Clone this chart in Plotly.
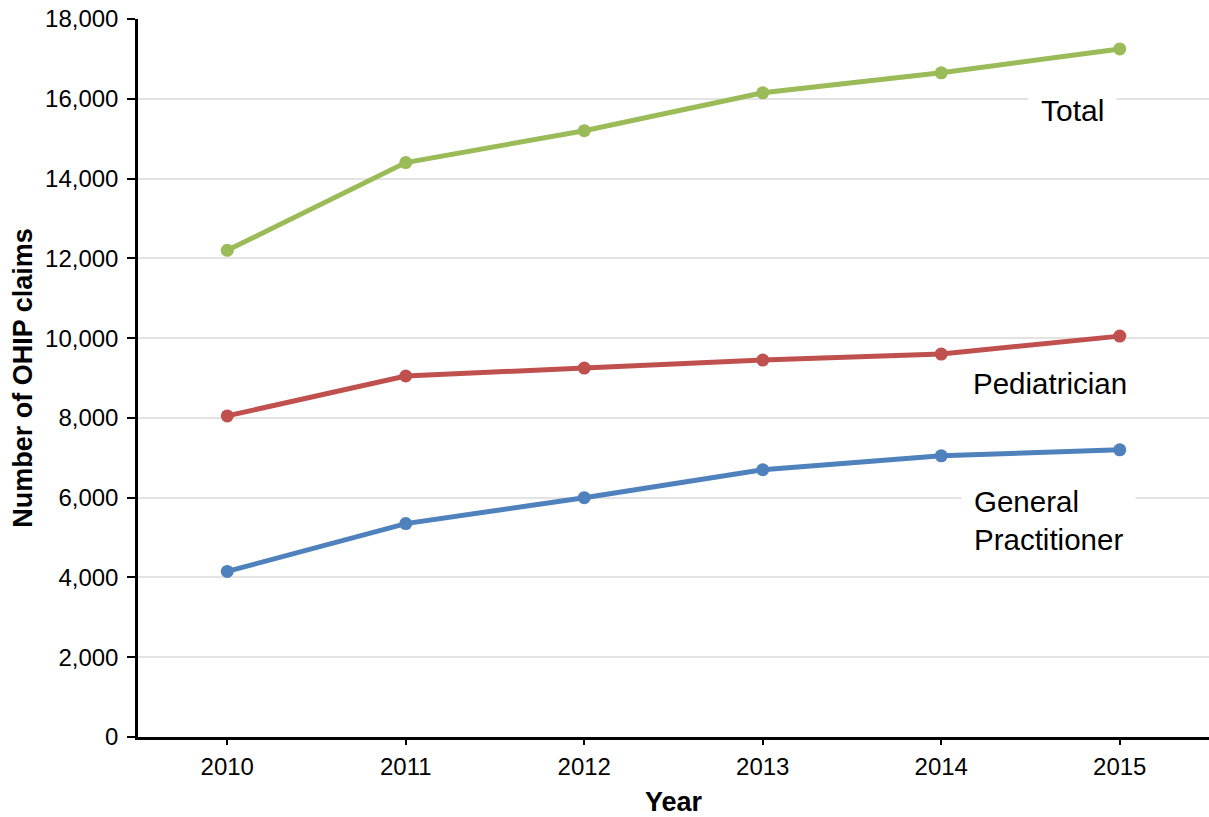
import plotly.graph_objects as go

years = [2010, 2011, 2012, 2013, 2014, 2015]
total = [12200, 14400, 15200, 16150, 16650, 17250]
pediatrician = [8050, 9050, 9250, 9450, 9600, 10050]
general_practitioner = [4150, 5350, 6000, 6700, 7050, 7200]
y_ticks = list(range(0, 18001, 2000))

FONT = "Liberation Sans, Arial, sans-serif"

fig = go.Figure()
for name, vals, color in [
    ("Total", total, "#9BBB59"),
    ("Pediatrician", pediatrician, "#C0504D"),
    ("General Practitioner", general_practitioner, "#4F81BD"),
]:
    fig.add_trace(go.Scatter(
        x=years, y=vals, name=name, mode="lines+markers",
        line=dict(color=color, width=5),
        marker=dict(color=color, size=13),
        showlegend=False,
    ))

fig.update_layout(
    width=1209, height=817,
    margin=dict(l=138, r=0, t=19, b=80),
    paper_bgcolor="white", plot_bgcolor="white",
    font=dict(family=FONT, color="black", size=24),
)
fig.update_xaxes(
    range=[2009.5, 2015.5], tickvals=years,
    ticks="outside", ticklen=5, tickwidth=2, tickcolor="black",
    showline=True, linecolor="black", linewidth=2.5,
    showgrid=False, zeroline=False,
    tickfont=dict(size=24), ticklabelstandoff=1,
    title=dict(text="<b>Year</b>", font=dict(size=27), standoff=18),
)
fig.update_yaxes(
    range=[0, 18000], tickvals=y_ticks, tickformat=",",
    ticks="outside", ticklen=8, tickwidth=2, tickcolor="black",
    showline=True, linecolor="black", linewidth=2.5,
    showgrid=True, gridcolor="#E3E3E3", gridwidth=2, zeroline=False,
    tickfont=dict(size=24), ticklabelstandoff=4,
    title=dict(text="<b>Number of OHIP claims</b>", font=dict(size=27), standoff=5),
)

fig.add_annotation(x=0.873, y=0.873, xref="paper", yref="paper",
                   xanchor="center", yanchor="middle",
                   text="Total", showarrow=False, font=dict(size=30),
                   bgcolor="white", borderpad=12)
fig.add_annotation(x=0.8515, y=0.493, xref="paper", yref="paper",
                   xanchor="center", yanchor="middle",
                   text="Pediatrician", showarrow=False, font=dict(size=29.5),
                   bgcolor="white", borderpad=2)
fig.add_annotation(x=0.8497, y=0.302, xref="paper", yref="paper",
                   xanchor="center", yanchor="middle",
                   text="General<br>Practitioner", align="left", showarrow=False,
                   font=dict(size=29.5), bgcolor="white", borderpad=12)

fig.write_html("out.html")
